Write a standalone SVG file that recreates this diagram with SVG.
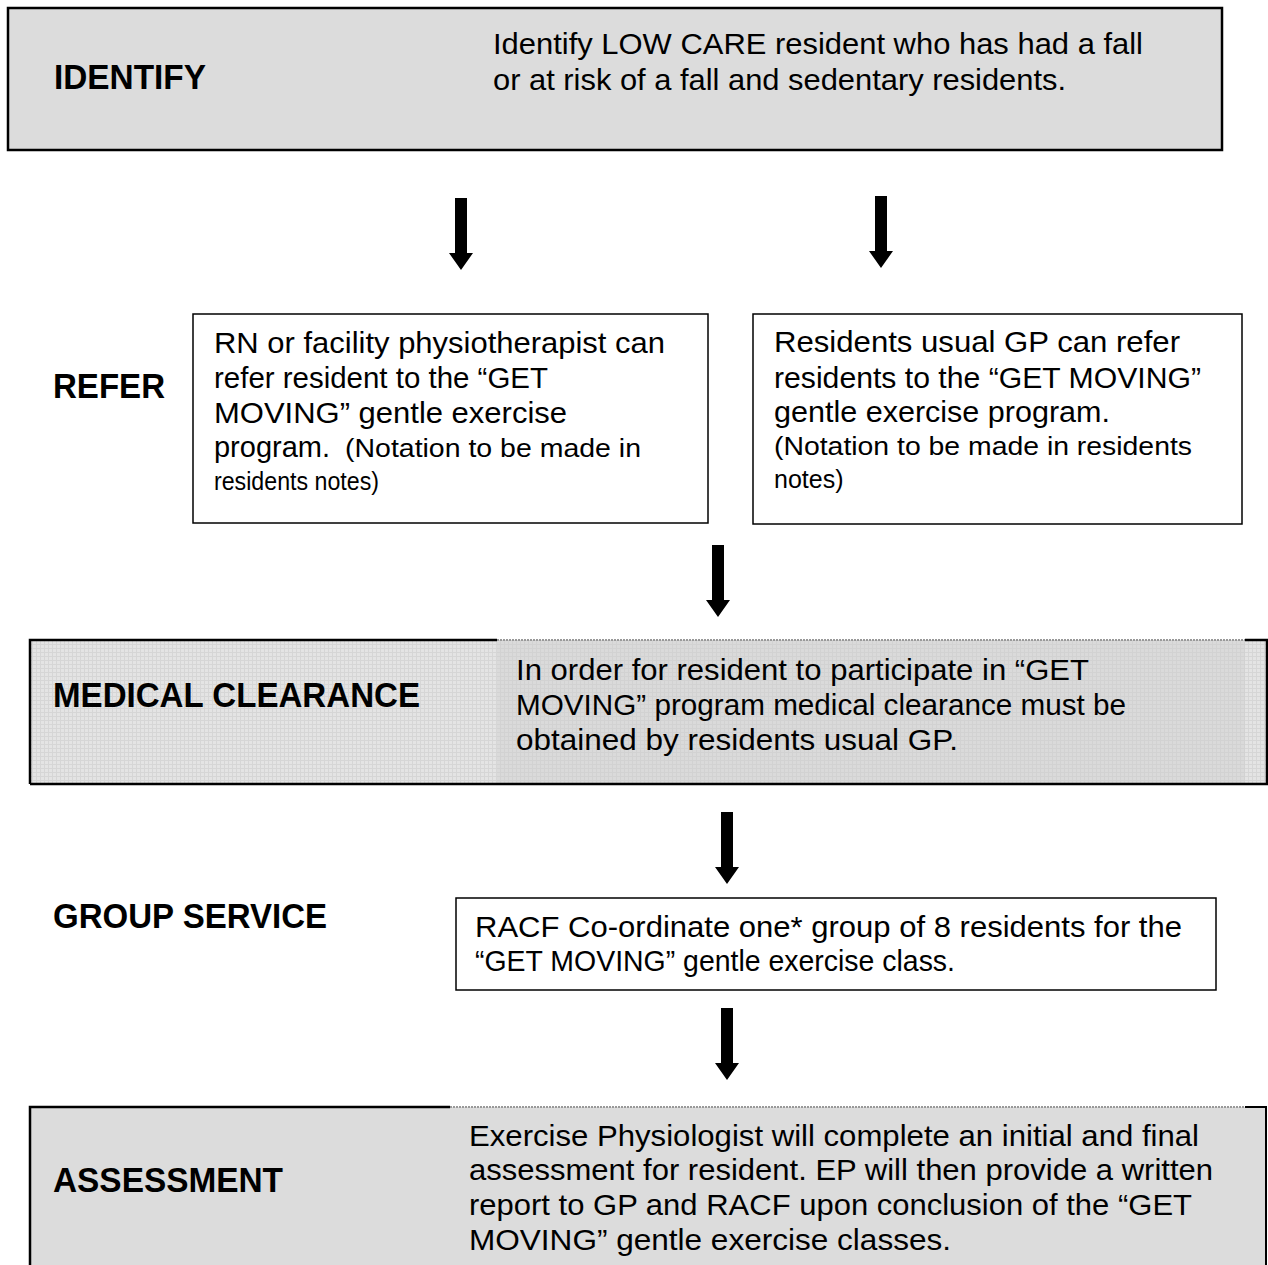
<svg xmlns="http://www.w3.org/2000/svg" width="1268" height="1265" viewBox="0 0 1268 1265">
<style>
.lbl{font-family:"Liberation Sans",Arial,sans-serif;font-weight:bold;font-size:35px;fill:#000}
.t{font-family:"Liberation Sans",Arial,sans-serif;font-size:29px;fill:#000}
.s{font-family:"Liberation Sans",Arial,sans-serif;font-size:25px;fill:#000}
.box{fill:#fff;stroke:#000;stroke-width:1.5}
.gbox{fill:#dcdcdc;stroke:#000;stroke-width:2.5}
.arrow{fill:#000}
</style>
<defs>
<pattern id="grid" width="4" height="4" patternUnits="userSpaceOnUse">
<rect width="4" height="4" fill="#e4e4e4"/>
<path d="M0 0.5H4M0.5 0V4" stroke="#d6d6d6" stroke-width="1"/>
</pattern>
<pattern id="grid2" width="4" height="4" patternUnits="userSpaceOnUse">
<rect width="4" height="4" fill="#dadada"/>
<path d="M0 0.5H4M0.5 0V4" stroke="#d2d2d2" stroke-width="1"/>
</pattern>
<path id="arr" d="M-6 0H6V55H12L0 72L-12 55H-6Z"/>
</defs>

<g id="identify">
<rect x="8" y="8" width="1214" height="142" class="gbox"/>
<text x="54" y="89" class="lbl" textLength="152" lengthAdjust="spacingAndGlyphs">IDENTIFY</text>
<text x="493" y="54" class="t" textLength="650" lengthAdjust="spacingAndGlyphs">Identify LOW CARE resident who has had a fall</text>
<text x="493" y="90" class="t" textLength="573" lengthAdjust="spacingAndGlyphs">or at risk of a fall and sedentary residents.</text>
</g>

<g id="refer-label">
<text x="53" y="398" class="lbl" textLength="112" lengthAdjust="spacingAndGlyphs">REFER</text>
</g>

<g id="refer-rn">
<rect x="193" y="314" width="515" height="209" class="box"/>
<text x="214" y="353" class="t" textLength="451" lengthAdjust="spacingAndGlyphs">RN or facility physiotherapist can</text>
<text x="214" y="388" class="t" textLength="334" lengthAdjust="spacingAndGlyphs">refer resident to the “GET</text>
<text x="214" y="423" class="t" textLength="353" lengthAdjust="spacingAndGlyphs">MOVING” gentle exercise</text>
<text x="214" y="457" class="t" textLength="116" lengthAdjust="spacingAndGlyphs">program.</text>
<text x="345" y="457" class="s" textLength="296" lengthAdjust="spacingAndGlyphs">(Notation to be made in</text>
<text x="214" y="490" class="s" textLength="165" lengthAdjust="spacingAndGlyphs">residents notes)</text>
</g>

<g id="refer-gp">
<rect x="753" y="314" width="489" height="210" class="box"/>
<text x="774" y="352" class="t" textLength="406" lengthAdjust="spacingAndGlyphs">Residents usual GP can refer</text>
<text x="774" y="388" class="t" textLength="427" lengthAdjust="spacingAndGlyphs">residents to the “GET MOVING”</text>
<text x="774" y="422" class="t" textLength="336" lengthAdjust="spacingAndGlyphs">gentle exercise program.</text>
<text x="774" y="455" class="s" textLength="418" lengthAdjust="spacingAndGlyphs">(Notation to be made in residents</text>
<text x="774" y="488" class="s">notes)</text>
</g>

<g id="medical">
<rect x="30" y="640" width="467" height="144" fill="url(#grid)"/>
<rect x="497" y="640" width="748" height="144" fill="url(#grid2)"/>
<rect x="1245" y="640" width="22" height="144" fill="url(#grid)"/>
<path d="M30 784V640H497" fill="none" stroke="#000" stroke-width="2.5"/>
<path d="M497 640H1245" fill="none" stroke="#999" stroke-width="2" stroke-dasharray="2 1"/>
<path d="M1245 640H1267V784H30" fill="none" stroke="#000" stroke-width="2.5"/>
<text x="53" y="707" class="lbl" textLength="367" lengthAdjust="spacingAndGlyphs">MEDICAL CLEARANCE</text>
<text x="516" y="680" class="t" textLength="573" lengthAdjust="spacingAndGlyphs">In order for resident to participate in “GET</text>
<text x="516" y="715" class="t" textLength="610" lengthAdjust="spacingAndGlyphs">MOVING” program medical clearance must be</text>
<text x="516" y="750" class="t" textLength="442" lengthAdjust="spacingAndGlyphs">obtained by residents usual GP.</text>
</g>

<g id="group-label">
<text x="53" y="928" class="lbl" textLength="274" lengthAdjust="spacingAndGlyphs">GROUP SERVICE</text>
</g>

<g id="group">
<rect x="456" y="898" width="760" height="92" class="box"/>
<text x="475" y="937" class="t" textLength="707" lengthAdjust="spacingAndGlyphs">RACF Co-ordinate one* group of 8 residents for the</text>
<text x="475" y="971" class="t" textLength="480" lengthAdjust="spacingAndGlyphs">“GET MOVING” gentle exercise class.</text>
</g>

<g id="assessment">
<rect x="30" y="1107" width="1237" height="170" fill="#dcdcdc"/>
<path d="M30 1275V1107H450" fill="none" stroke="#000" stroke-width="2.5"/>
<path d="M450 1107H1245" fill="none" stroke="#999" stroke-width="2" stroke-dasharray="2 1"/>
<path d="M1245 1107H1266V1275" fill="none" stroke="#000" stroke-width="2"/>
<text x="53" y="1192" class="lbl" textLength="230" lengthAdjust="spacingAndGlyphs">ASSESSMENT</text>
<text x="469" y="1146" class="t" textLength="730" lengthAdjust="spacingAndGlyphs">Exercise Physiologist will complete an initial and final</text>
<text x="469" y="1180" class="t" textLength="744" lengthAdjust="spacingAndGlyphs">assessment for resident. EP will then provide a written</text>
<text x="469" y="1215" class="t" textLength="723" lengthAdjust="spacingAndGlyphs">report to GP and RACF upon conclusion of the “GET</text>
<text x="469" y="1250" class="t" textLength="482" lengthAdjust="spacingAndGlyphs">MOVING” gentle exercise classes.</text>
</g>

<g id="connectors" class="arrow">
<use href="#arr" x="461" y="198"/>
<use href="#arr" x="881" y="196"/>
<use href="#arr" x="718" y="545"/>
<use href="#arr" x="727" y="812"/>
<use href="#arr" x="727" y="1008"/>
</g>
</svg>
